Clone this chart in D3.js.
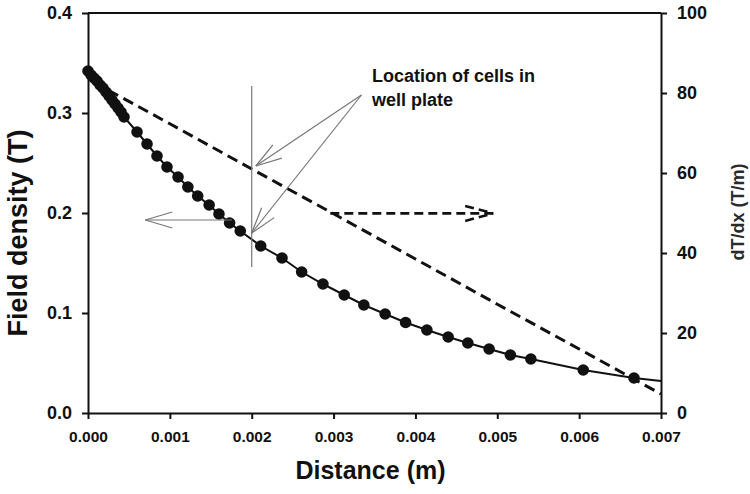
<!DOCTYPE html>
<html>
<head>
<meta charset="utf-8">
<script src="https://cdn.jsdelivr.net/npm/d3@7"></script>
<style>
  body { margin: 0; background: #fff; }
  svg { font-family: "Liberation Sans", Arial, sans-serif; }
</style>
</head>
<body>
<svg id="chart" width="750" height="494"></svg>
<script>
// field density measured along the distance (left axis)
var distance = [0, 0.000037, 0.000073, 0.00011, 0.000147, 0.000183, 0.00022, 0.000257, 0.000293, 0.00033,
  0.000367, 0.000403, 0.00044, 0.000599, 0.000721, 0.000843, 0.000965, 0.0011, 0.00122, 0.00134,
  0.00148, 0.0016, 0.00173, 0.00186, 0.00211, 0.00237, 0.00261, 0.00287, 0.00313, 0.00337,
  0.00363, 0.00388, 0.00414, 0.0044, 0.00464, 0.0049, 0.00516, 0.00541, 0.00605, 0.00667];
var fieldDensity = [0.342, 0.338, 0.335, 0.332, 0.328, 0.325, 0.321, 0.317, 0.313, 0.309,
  0.305, 0.301, 0.296, 0.281, 0.269, 0.257, 0.246, 0.236, 0.226, 0.217,
  0.208, 0.199, 0.190, 0.182, 0.167, 0.155, 0.141, 0.129, 0.118, 0.108,
  0.099, 0.0905, 0.083, 0.076, 0.070, 0.064, 0.058, 0.054, 0.043, 0.035];
// the solid curve runs on to the end of the axis
var curveEndX = 0.007;
var curveEndY = 0.032;

// gradient dT/dx (right axis), dashed
var gradX = [0.00025, 0.001, 0.002, 0.003, 0.004, 0.005, 0.006, 0.007];
var gradY = [80.7, 72.3, 61.0, 49.8, 38.5, 27.2, 16.0, 4.75];

var xTicks = [0, 0.001, 0.002, 0.003, 0.004, 0.005, 0.006, 0.007];
var yLeftTicks = [0, 0.1, 0.2, 0.3, 0.4];
var yRightTicks = [0, 20, 40, 60, 80, 100];

var svg = d3.select("#chart");
var plotLeft = 88, plotRight = 661, plotTop = 13, plotBottom = 413;

var x = d3.scaleLinear().domain([0, 0.007]).range([plotLeft, plotRight]);
var yL = d3.scaleLinear().domain([0, 0.4]).range([plotBottom, plotTop]);
var yR = d3.scaleLinear().domain([0, 100]).range([plotBottom, plotTop]);

var ink = "#111";
var grey = "#777";

// axes
var gx = svg.append("g").attr("transform", "translate(0," + plotBottom + ")")
  .call(d3.axisBottom(x).tickValues(xTicks).tickFormat(d3.format(".3f"))
    .tickSize(6).tickSizeOuter(0).tickPadding(12));
var gl = svg.append("g").attr("transform", "translate(" + plotLeft + ",0)")
  .call(d3.axisLeft(yL).tickValues(yLeftTicks).tickFormat(d3.format(".1f"))
    .tickSize(6).tickSizeOuter(0).tickPadding(10));
var gr = svg.append("g").attr("transform", "translate(" + plotRight + ",0)")
  .call(d3.axisRight(yR).tickValues(yRightTicks)
    .tickSize(6).tickSizeOuter(0).tickPadding(10));

[gx, gl, gr].forEach(function(g){
  g.selectAll("path, line").attr("stroke", ink).attr("stroke-width", 2);
  g.selectAll("text").attr("fill", ink).style("font-weight", "bold");
});
gx.selectAll("text").style("font-size", "15.5px");
gl.selectAll("text").style("font-size", "18px");
gr.selectAll("text").style("font-size", "18px");

// top frame
svg.append("line")
  .attr("x1", plotLeft).attr("x2", plotRight)
  .attr("y1", plotTop).attr("y2", plotTop)
  .attr("stroke", ink).attr("stroke-width", 2);

// axis titles
svg.append("text")
  .attr("x", (plotLeft + plotRight) / 2 - 4).attr("y", 479)
  .attr("text-anchor", "middle")
  .style("font-size", "25px").style("font-weight", "bold").attr("fill", ink)
  .text("Distance (m)");
svg.append("text")
  .attr("transform", "translate(27,233) rotate(-90)")
  .attr("text-anchor", "middle")
  .style("font-size", "27px").style("font-weight", "bold").attr("fill", ink)
  .text("Field density (T)");
svg.append("text")
  .attr("transform", "translate(744,212) rotate(-90)")
  .attr("text-anchor", "middle")
  .style("font-size", "18px").style("font-weight", "bold").attr("fill", "#2a2a2a")
  .text("dT/dx (T/m)");

// dashed gradient line
var gradData = gradX.map(function(d, i){ return [d, gradY[i]]; });
svg.append("path")
  .datum(gradData)
  .attr("fill", "none")
  .attr("stroke", ink)
  .attr("stroke-width", 3)
  .attr("stroke-dasharray", "11,6")
  .attr("d", d3.line().x(function(d){ return x(d[0]); }).y(function(d){ return yR(d[1]); }));

// solid field curve + markers
var fieldData = distance.map(function(d, i){ return [d, fieldDensity[i]]; });
svg.append("path")
  .datum(fieldData.concat([[curveEndX, curveEndY]]))
  .attr("fill", "none")
  .attr("stroke", ink)
  .attr("stroke-width", 2)
  .attr("d", d3.line().x(function(d){ return x(d[0]); }).y(function(d){ return yL(d[1]); }));

svg.append("g").selectAll("circle")
  .data(fieldData)
  .enter().append("circle")
  .attr("cx", function(d){ return x(d[0]); })
  .attr("cy", function(d){ return yL(d[1]); })
  .attr("r", 5.8)
  .attr("fill", ink);

// annotations (data units)
var cellX = 0.002;
svg.append("line")
  .attr("x1", x(cellX)).attr("x2", x(cellX))
  .attr("y1", yL(0.146)).attr("y2", yL(0.327))
  .attr("stroke", grey).attr("stroke-width", 1.2);

var note = svg.append("text")
  .attr("x", x(0.00347)).attr("y", yL(0.331))
  .style("font-size", "18px").style("font-weight", "bold").attr("fill", ink);
note.append("tspan").text("Location of cells in");
note.append("tspan").attr("x", x(0.00347)).attr("dy", 24).text("well plate");

// open arrow: line from p0 to tip p1 with two barbs
var arrow = function(x0, y0, x1, y1, len, half, opts){
  var dx = x1 - x0, dy = y1 - y0, L = Math.sqrt(dx*dx + dy*dy);
  var ux = dx / L, uy = dy / L;
  var bx = x1 - ux*len, by = y1 - uy*len;
  var g = svg.append("g")
    .attr("fill", "none")
    .attr("stroke", opts.color)
    .attr("stroke-width", opts.width);
  if (opts.dash) g.attr("stroke-dasharray", opts.dash);
  g.append("line").attr("x1", x0).attr("y1", y0).attr("x2", x1).attr("y2", y1);
  g.append("line").attr("x1", bx - uy*half).attr("y1", by + ux*half).attr("x2", x1).attr("y2", y1);
  g.append("line").attr("x1", bx + uy*half).attr("y1", by - ux*half).attr("x2", x1).attr("y2", y1);
};

var greyArrow = {color: grey, width: 1.2};
arrow(x(0.00334), yL(0.318), x(0.00205), yL(0.247), 26, 8, greyArrow);
arrow(x(0.00334), yL(0.318), x(0.002), yL(0.180), 26, 8, greyArrow);
arrow(x(0.00176), yL(0.193), x(0.0007), yL(0.193), 27, 8, greyArrow);
arrow(x(0.00296), yR(49.9), x(0.00495), yR(49.9), 28, 7.5, {color: ink, width: 2.6, dash: "9,5"});
</script>
</body>
</html>
